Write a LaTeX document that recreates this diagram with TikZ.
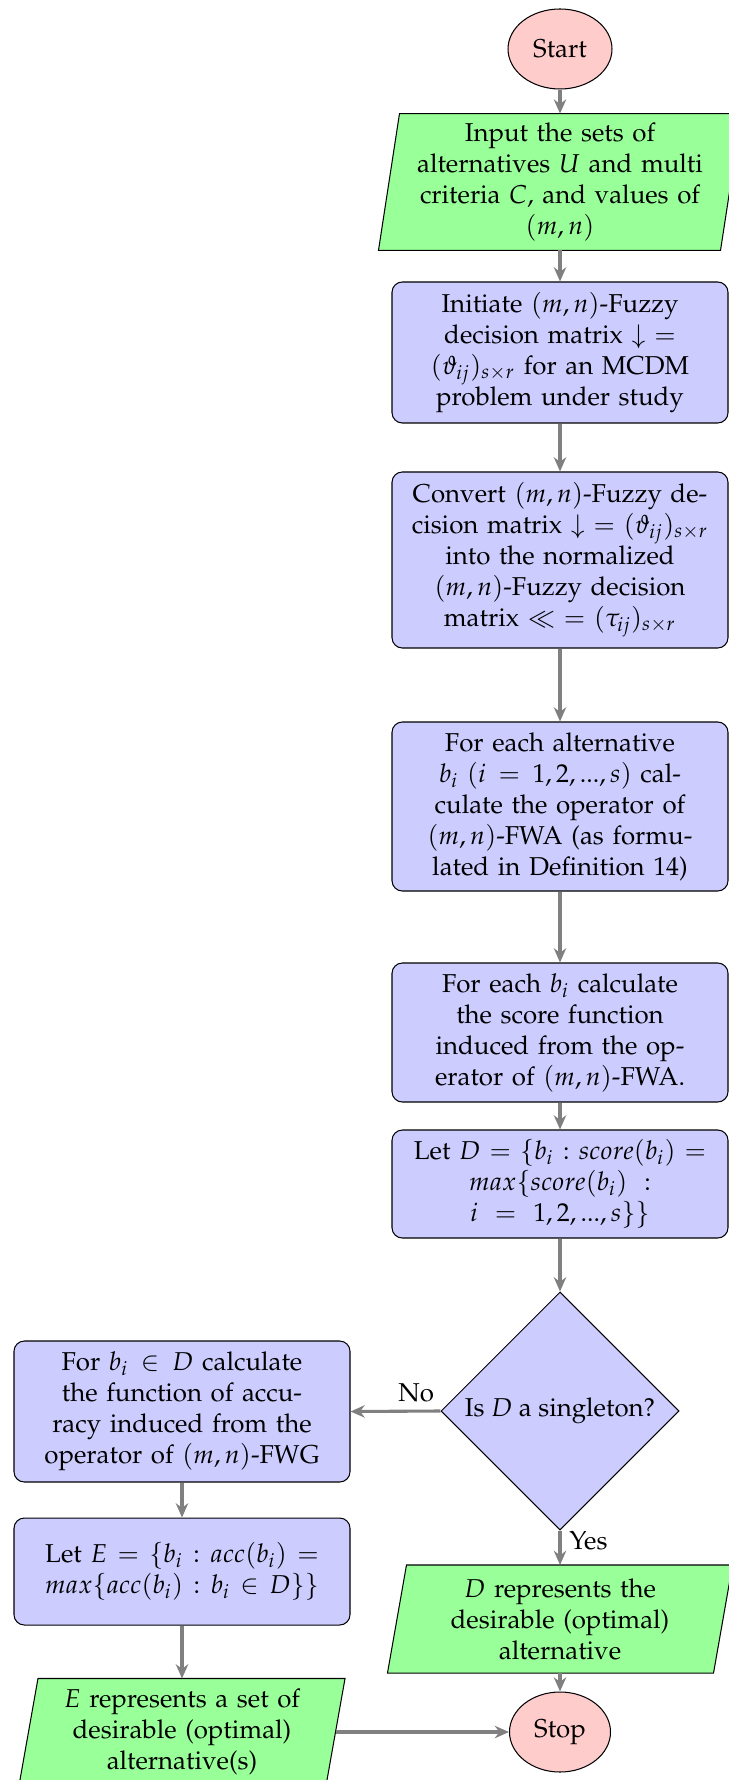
\documentclass[tikz,border=0pt]{standalone}
\usepackage[T1]{fontenc}
\usepackage{mathpazo}
\usetikzlibrary{shapes.geometric,arrows.meta,calc,backgrounds}
\newdimen\pxu
\pxu=0.387pt
\tikzset{
  proc/.style={rectangle, rounded corners=4pt, draw=black, fill=blue!20,
    text width=123pt, align=center, minimum width=336\pxu},
  iotext/.style={rectangle, text width=100pt, align=center},
  iofill/.style={draw=black, fill=green!40},
  term/.style={ellipse, draw=black, fill=red!20, inner sep=0pt},
  decision/.style={diamond, draw=black, fill=blue!20, aspect=1, inner sep=0pt,
    minimum width=238\pxu, minimum height=238\pxu},
  arr/.style={draw=gray, line width=1.2pt, -{Stealth[length=5.5pt,width=4.8pt]}},
  lab/.style={inner sep=3pt}
}
\begin{document}
\begin{tikzpicture}[x=\pxu, y=-\pxu]
\useasboundingbox (0,0) rectangle (729,1780);

\node[term, minimum width=104\pxu, minimum height=80\pxu] (start) at (560,49) {Start};

\node[iotext, text width=117pt, minimum width=320\pxu, minimum height=121\pxu] (in) at (560,182)
  {Input the sets of\\ alternatives $U$ and multi\\ criteria $C$, and values of\\ $(m,n)$};

\node[proc, minimum height=141\pxu] (init) at (560,352.5)
  {Initiate $(m,n)$-Fuzzy\\ decision matrix $\downarrow$ $=$\\ $(\vartheta_{ij})_{s\times r}$ for an MCDM\\ problem under study};

\node[proc, minimum height=176\pxu] (conv) at (560,560)
  {Convert $(m,n)$-Fuzzy de-\\ cision matrix $\downarrow$ $=(\vartheta_{ij})_{s\times r}$\\ into the normalized\\ $(m,n)$-Fuzzy decision\\ matrix $\ll$ $=$ $(\tau_{ij})_{s\times r}$};

\node[proc, minimum height=169\pxu] (fwa) at (560,806.5)
  {For each alternative\\ $b_i$ $(i = 1,2,...,s)$ cal-\\ culate the operator of\\ $(m,n)$-FWA (as formu-\\ lated in Definition 14)};

\node[proc, minimum height=139\pxu] (score) at (560,1032.5)
  {For each $b_i$ calculate\\ the score function\\ induced from the op-\\ erator of $(m,n)$-FWA.};

\node[proc, minimum height=108\pxu] (letd) at (560,1184)
  {Let $D=\{b_i: score(b_i)=$\\ $max\{score(b_i) :$\\ $i = 1,2,...,s\}\}$};

\node[decision] (dec) at (560,1411) {Is $D$ a singleton?};

\node[proc, minimum height=141\pxu] (acc) at (182,1411.5)
  {For $b_i \in D$ calculate\\ the function of accu-\\ racy induced from the\\ operator of $(m,n)$-FWG};

\node[proc, minimum height=107\pxu] (lete) at (182,1571.5)
  {Let $E=\{b_i: acc(b_i)=$\\ $max\{acc(b_i): b_i\in D\}\}$};

\node[iotext, minimum width=287\pxu, minimum height=106\pxu] (epar) at (182,1732)
  {$E$ represents a set of\\ desirable (optimal)\\ alternative(s)};

\node[iotext, minimum width=306\pxu, minimum height=107\pxu] (dpar) at (560,1619)
  {$D$ represents the\\ desirable (optimal)\\ alternative};

\node[term, minimum width=101\pxu, minimum height=80\pxu] (stop) at (560,1732) {Stop};

\begin{scope}[on background layer]
  \draw[iofill] ($(in.south west)+(-21,0)$) -- (in.south east) -- ($(in.north east)+(21,0)$) -- (in.north west) -- cycle;
  \draw[iofill] ($(dpar.south west)+(-19,0)$) -- (dpar.south east) -- ($(dpar.north east)+(19,0)$) -- (dpar.north west) -- cycle;
  \draw[iofill] ($(epar.south west)+(-19,0)$) -- (epar.south east) -- ($(epar.north east)+(19,0)$) -- (epar.north west) -- cycle;
\end{scope}

\coordinate (eout) at ($(epar.east)+(9.5,0)$);

\draw[arr] (start) -- (in);
\draw[arr] (in) -- (init);
\draw[arr] (init) -- (conv);
\draw[arr] (conv) -- (fwa);
\draw[arr] (fwa) -- (score);
\draw[arr] (score) -- (letd);
\draw[arr] (letd) -- (dec);
\draw[arr] (dec.west) -- node[pos=0.27, above, lab] (nolab) {No} (acc.east);
\draw[arr] (acc) -- (lete);
\draw[arr] (lete) -- (epar);
\draw[arr] (dec.south) -- node[pos=0.3, right, lab] (yeslab) {Yes} (dpar.north);
\draw[arr] (dpar) -- (stop);
\draw[arr] (eout) -- (stop);
\end{tikzpicture}
\end{document}
